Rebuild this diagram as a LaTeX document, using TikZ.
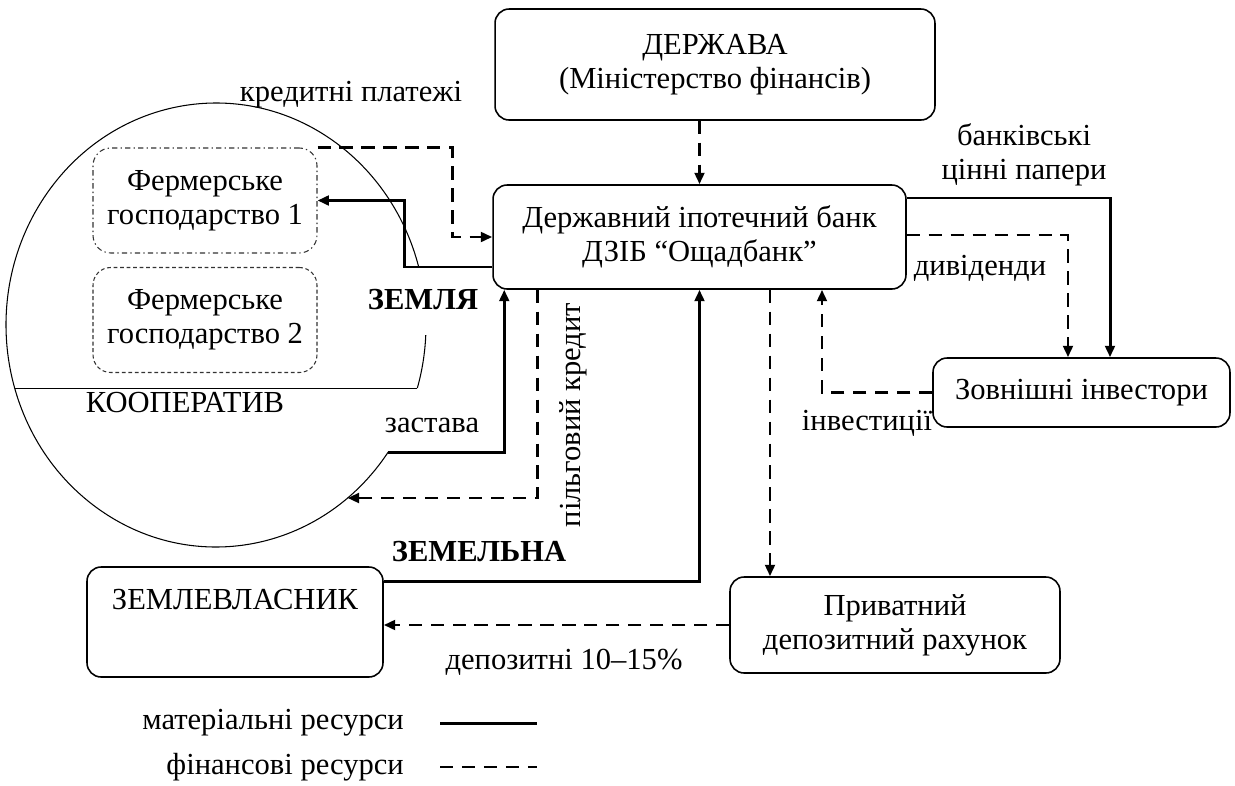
\documentclass[tikz,border=0pt]{standalone}
\usepackage{fontspec}
\setmainfont{Liberation Serif}
\usepackage{tikz}
\usetikzlibrary{arrows.meta, calc}

\begin{document}
\begin{tikzpicture}[
    x=0.02cm, y=-0.02cm,
    >={Triangle[length=6.5pt, width=5.5pt]},
    every node/.style={font=\fontsize{17.4}{19.5}\selectfont},
    block/.style={
        draw,
        line width=0.9pt,
        rounded corners=8pt,
        align=center
    },
    farm/.style={
        draw=black!80,
        line width=0.6pt,
        rounded corners=10pt,
        align=center,
        minimum width=4.48cm,
        minimum height=2.1cm
    },
    material/.style={->, line width=1.7pt},
    finance/.style={->, line width=1.6pt, dash pattern=on 7.5pt off 5pt}
]
\useasboundingbox (0,0) rectangle (1235,785);

% Main blocks
\node[block, minimum width=8.8cm, minimum height=2.22cm] (state) at (715,64.5) {ДЕРЖАВА\\(Міністерство фінансів)};
\node[block, minimum width=8.26cm, minimum height=2.08cm] (bank) at (699.5,237) {Державний іпотечний банк\\ДЗІБ “Ощадбанк”};
\node[block, minimum width=5.94cm, minimum height=1.38cm] (investors) at (1081.5,392.5) {Зовнішні інвестори};
\node[block, minimum width=6.6cm, minimum height=1.92cm] (deposit) at (895,625) {Приватний\\депозитний рахунок};
\node[block, minimum width=5.92cm, minimum height=2.2cm] (owner) at (235,622) {ЗЕМЛЕВЛАСНИК\\\strut};

% Cooperative with its farms
\node[farm, dash pattern=on 3pt off 1.8pt on 0.8pt off 1.8pt] (farm1) at (205,200.5) {Фермерське\\господарство 1};
\node[farm, dash pattern=on 2.2pt off 1.5pt] (farm2) at (205,320) {Фермерське\\господарство 2};
\coordinate (coop) at (216,325);
\draw[line width=0.6pt] (coop) ++(34.9:210 and 222)
    arc[start angle=34.9, end angle=344.9, x radius=210, y radius=222];
\draw[line width=0.6pt] (coop) ++(2.6:210 and 222)
    arc[start angle=2.6, end angle=16.5, x radius=210, y radius=222];
\draw[line width=0.6pt] (coop) ++(163.5:210 and 222) -- ($(coop)+(16.5:210 and 222)$);
\path (coop) ++(34.9:210 and 222) coordinate (pledge);
\path (coop) ++(51.2:210 and 222) coordinate (loan end);

% Labels
\node (payments) at (351,95) {кредитні платежі};
\node (land) at (423,300) {\bfseries ЗЕМЛЯ};
\node (coop label) at (185,403) {КООПЕРАТИВ};
\node (pledge label) at (432,425) {застава};
\node[rotate=90] (loan label) at (573,415) {пільговий кредит};
\node (land share) at (479,552) {\bfseries ЗЕМЕЛЬНА};
\node (deposit label) at (564,662) {депозитні 10–15\%};
\node[align=center] (papers) at (1024,155) {банківські\\цінні папери};
\node (dividends) at (980,268) {дивіденди};
\node (invest label) at (867,423) {інвестиції};

% Material flows
\draw[material] ($(bank.west)+(0,30)$) -- ++(-88,0) |- (farm1.east);
\draw[material] (pledge) -| ($(bank.south west)+(12,0)$);
\draw[material] ($(owner.north east)+(0,15)$) -| (bank.south);
\draw[material] ($(bank.east)+(0,-39)$) -| ($(investors.north)+(28.5,0)$);

% Financial flows
\draw[finance] (farm1.north east) -| ($(bank.west)+(-40,0)$) -- (bank.west);
\draw[finance] (bank.north |- state.south) -- (bank.north);
\draw[finance] ($(bank.south west)+(45,0)$) |- (loan end);
\draw[finance] ($(bank.east)+(0,-2)$) -| ($(investors.north)+(-13.5,0)$);
\draw[finance] (investors.west) -| ($(bank.south)+(122.5,0)$);
\coordinate (to deposit) at ($(bank.south)+(70.5,0)$);
\draw[finance] (to deposit) -- (to deposit |- deposit.north);
\draw[finance] (deposit.west) -- (deposit.west -| owner.east);

% Legend
\node[anchor=east] (legend mat) at (410,723) {матеріальні ресурси};
\node[anchor=east] (legend fin) at (410,767) {фінансові ресурси};
\draw[line width=1.7pt] ($(legend mat.east)+(30,0)$) -- ++(97,0);
\draw[line width=1.6pt, dash pattern=on 7.5pt off 5pt] ($(legend fin.east)+(30,0)$) -- ++(97,0);

\end{tikzpicture}
\end{document}
